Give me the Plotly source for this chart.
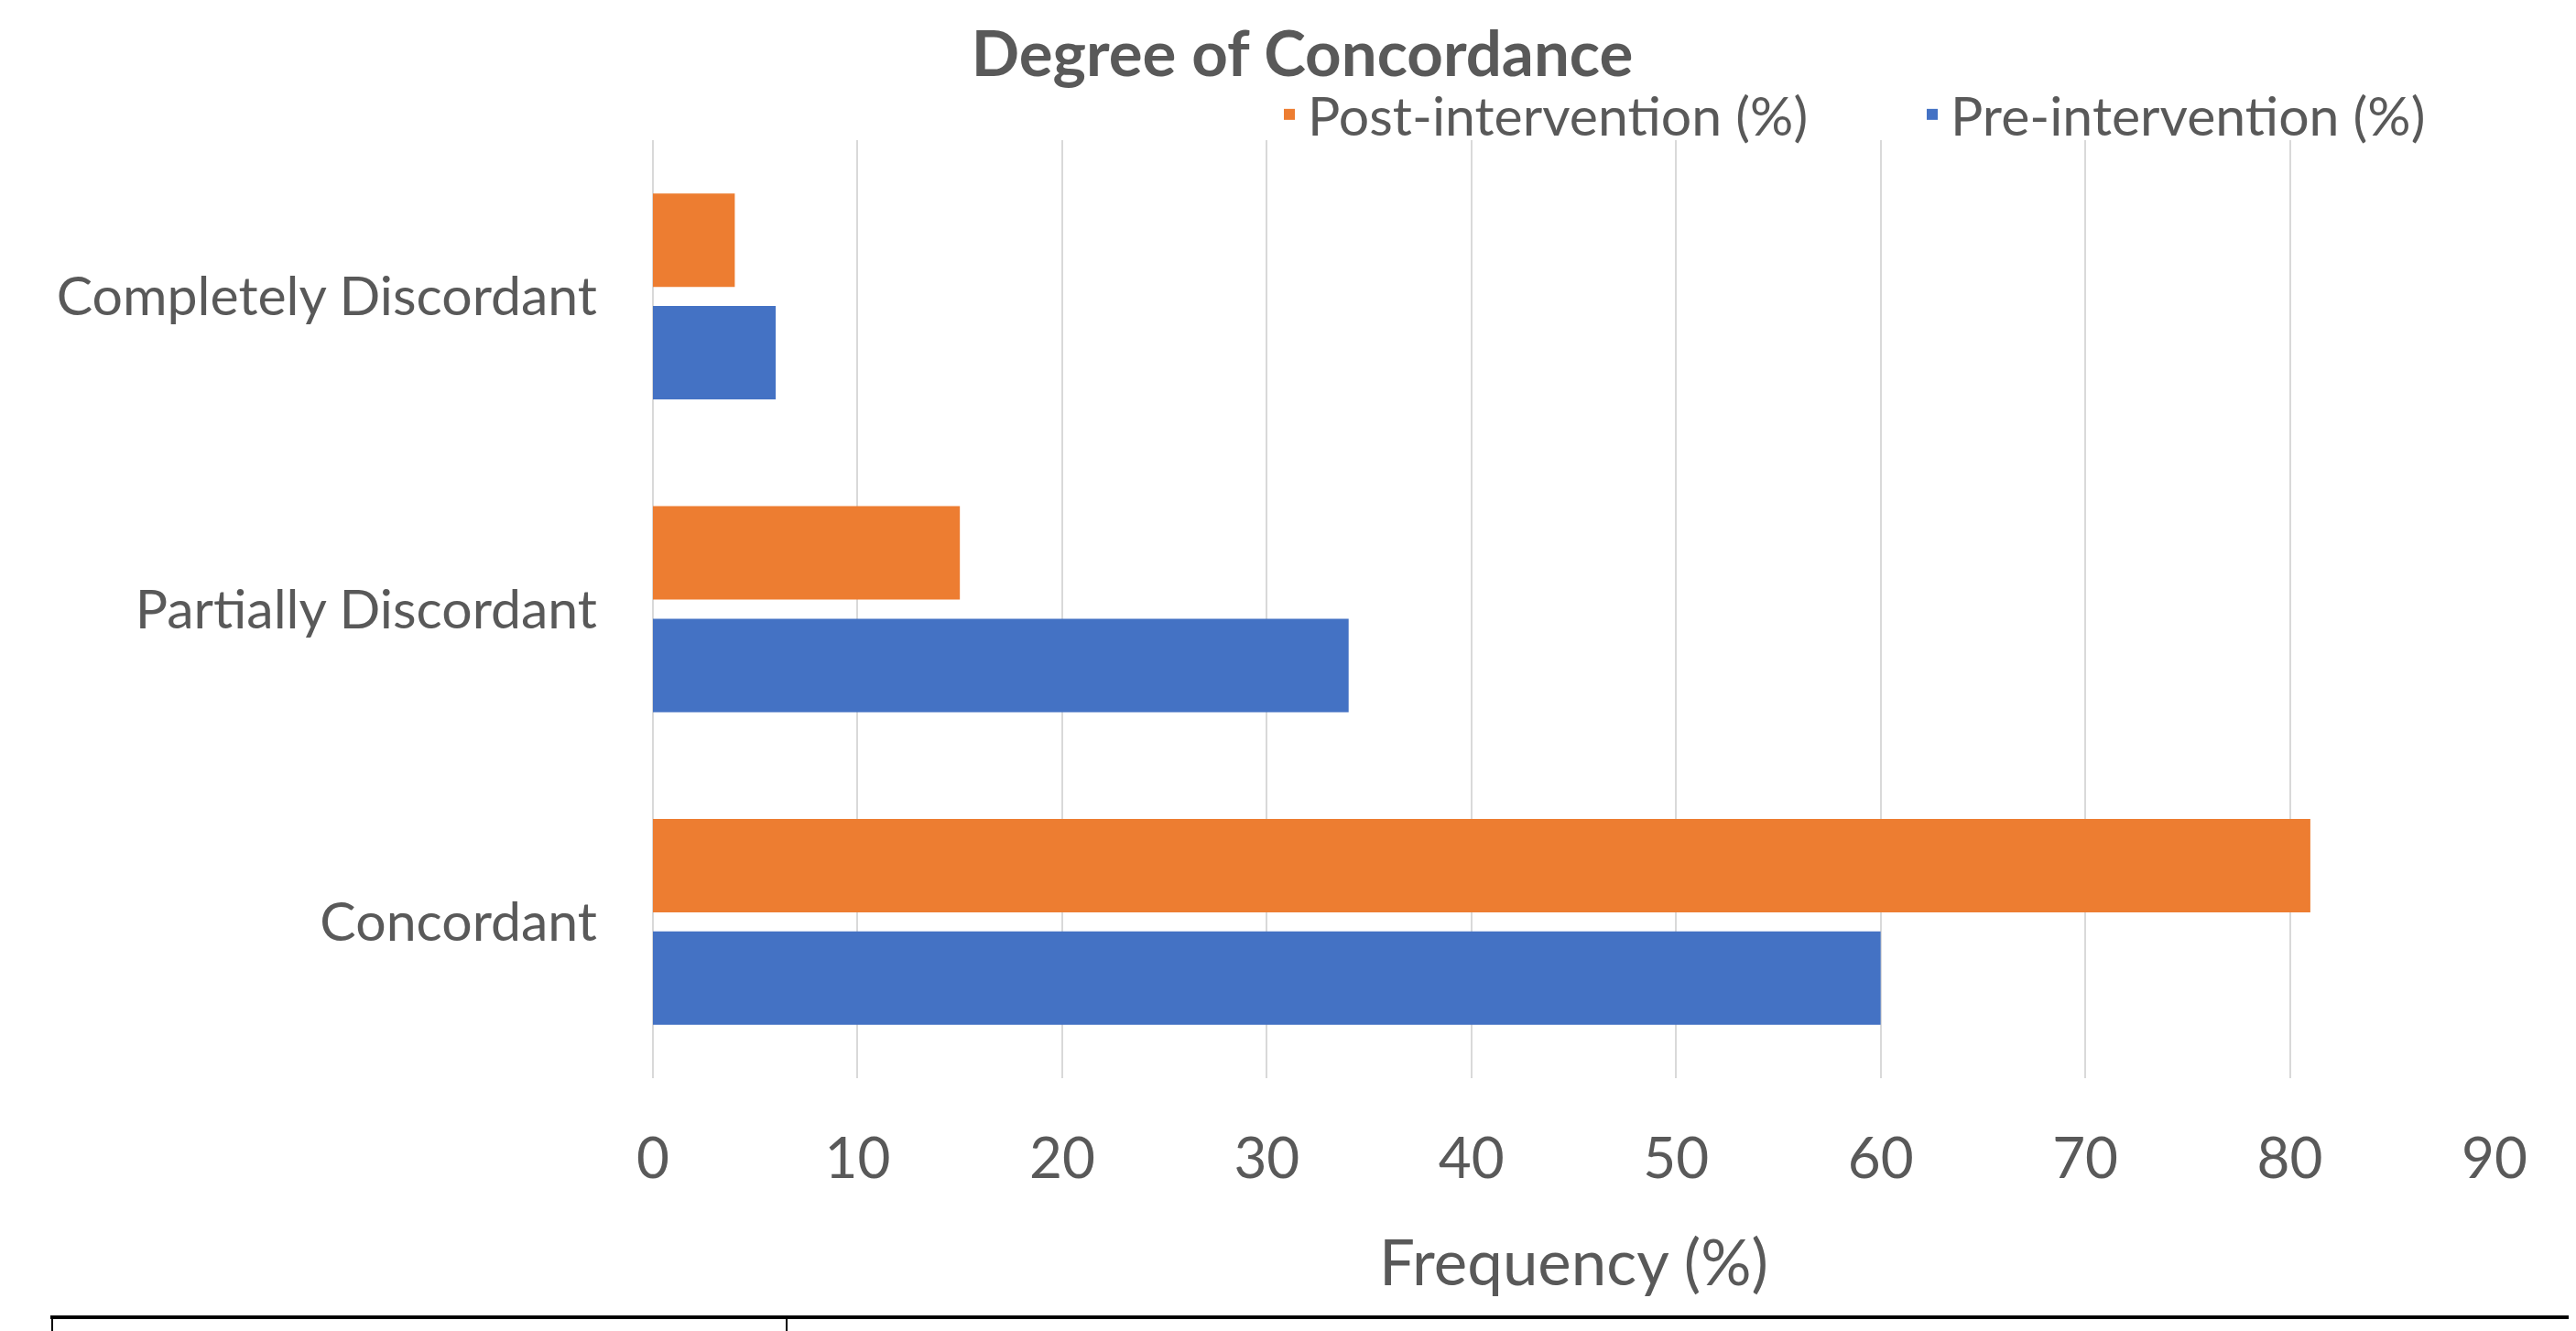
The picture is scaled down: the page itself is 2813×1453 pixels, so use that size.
import plotly.graph_objects as go

categories = ["Concordant", "Partially Discordant", "Completely Discordant"]
pre_values = [60, 34, 6]
post_values = [81, 15, 4]
x_ticks = [0, 10, 20, 30, 40, 50, 60, 70, 80, 90]

# the page body adds an 8 px offset; work in screen pixels and compensate
OFF = 8
SW, SH = 2813, 1453
W, H = SW - OFF, SH - OFF
PL, PR, PT, PB = 713, 2724, 153, 1177          # plot area in screen pixels
L, R, T, B = PL - OFF, W - (PR - OFF), PT - OFF, H - (PB - OFF)
PW, PH = W - L - R, H - T - B

def px(xs):
    return (xs - OFF - L) / PW

def py(ys):
    return (H - B - (ys - OFF)) / PH

FONT = "Lato"
GREY = "#595959"

fig = go.Figure()
fig.add_trace(go.Bar(
    y=categories, x=pre_values, orientation="h", name="Pre-intervention (%)",
    marker=dict(color="#4472C4", line=dict(width=0)),
))
fig.add_trace(go.Bar(
    y=categories, x=post_values, orientation="h", name="Post-intervention (%)",
    marker=dict(color="#ED7D31", line=dict(width=0)),
))

fig.update_layout(
    width=W, height=H,
    margin=dict(l=L, r=R, t=T, b=B, autoexpand=False),
    paper_bgcolor="white", plot_bgcolor="white",
    font=dict(family=FONT, color=GREY, size=59),
    barmode="group", bargap=0.28, bargroupgap=0.17,
    title=dict(text="<b>Degree of Concordance</b>", xref="container", x=(1422 - OFF) / W,
               xanchor="center", yref="container", y=1 - (59 - OFF) / H, yanchor="middle",
               font=dict(family=FONT, size=69, color=GREY)),
    legend=dict(orientation="h", traceorder="reversed", x=px(1388), xanchor="left",
                y=py(125), yanchor="middle", entrywidth=657, entrywidthmode="pixels",
                font=dict(family=FONT, size=59, color=GREY), bgcolor="rgba(0,0,0,0)"),
    showlegend=True,
)
fig.update_xaxes(
    range=[0, 90], tickvals=x_ticks, showgrid=True, gridcolor="#D9D9D9", gridwidth=2,
    zeroline=True, zerolinecolor="#D9D9D9", zerolinewidth=2, showline=False,
    ticks="", ticklabelstandoff=46, tickfont=dict(size=62, color=GREY),
    title=dict(text="Frequency (%)", font=dict(size=69, color=GREY), standoff=56),
)
fig.update_yaxes(
    showgrid=False, zeroline=False, showline=False, ticks="",
    ticklabelstandoff=60, tickfont=dict(size=59, color=GREY),
)

# table border seen at the bottom of the source image
fig.add_shape(type="line", xref="paper", yref="paper", x0=px(55), x1=px(SW + 10), y0=py(1438), y1=py(1438),
              line=dict(color="black", width=4))
fig.add_shape(type="line", xref="paper", yref="paper", x0=px(57), x1=px(57), y0=py(1438), y1=py(SH + 10),
              line=dict(color="black", width=2))
fig.add_shape(type="line", xref="paper", yref="paper", x0=px(859), x1=px(859), y0=py(1438), y1=py(SH + 10),
              line=dict(color="black", width=2))

fig.write_html("out.html")
